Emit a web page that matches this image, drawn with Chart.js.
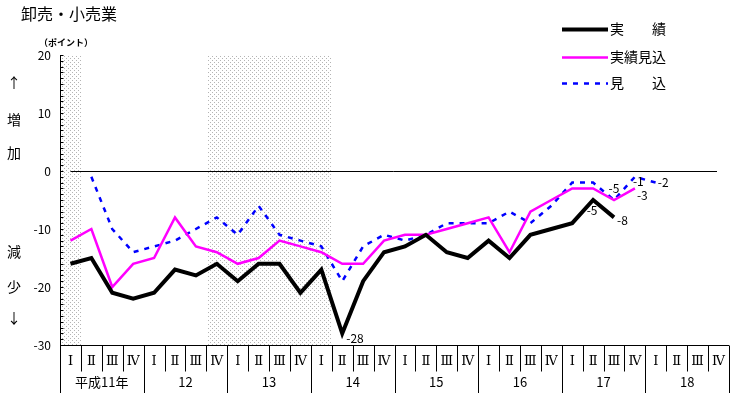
<!DOCTYPE html>
<html lang="ja">
<head>
<meta charset="utf-8">
<script src="https://cdn.jsdelivr.net/npm/chart.js@4"></script>
<style>
  html, body { margin: 0; padding: 0; background: #fff; }
  #wrap { width: 734px; height: 393px; }
</style>
</head>
<body>
<div id="wrap"><canvas id="grafico" width="734" height="393"></canvas></div>
<script>
// Dados (pontos)
const anos = ['平成11年', '12', '13', '14', '15', '16', '17', '18'];
const trimestres = ['Ⅰ', 'Ⅱ', 'Ⅲ', 'Ⅳ'];
const jisseki = [-16, -15, -21, -22, -21, -17, -18, -16, -19, -16, -16, -21, -17, -28, -19, -14,
  -13, -11, -14, -15, -12, -15, -11, -10, -9, -5, -8];
const jissekiMikomi = [-12, -10, -20, -16, -15, -8, -13, -14, -16, -15, -12, -13, -14, -16, -16, -12,
  -11, -11, -10, -9, -8, -14, -7, -5, -3, -3, -5, -3];
const mikomi = [null, -1, -10, -14, -13, -12, -10, -8, -11, -6, -11, -12, -13, -19, -13, -11,
  -12, -11, -9, -9, -9, -7, -9, -6, -2, -2, -5, -1, -2];
const yTicks = [20, 10, 0, -10, -20, -30];
// faixas sombreadas (índice do trimestre inicial, quantidade)
const faixas = [[0, 1], [7, 6]];
// rótulos de valor: [dataset, índice]
const rotulos = [[0, 13], [0, 25], [0, 26], [1, 26], [1, 27], [2, 27], [2, 28]];

const categorias = [];
anos.forEach(a => trimestres.forEach(t => categorias.push(a + '-' + t)));

const fonte = "'Noto Sans CJK JP', 'Noto Sans', sans-serif";

// padrão pontilhado cinza
function criarPadrao(ctx) {
  const c = document.createElement('canvas');
  c.width = 4; c.height = 4;
  const g = c.getContext('2d');
  g.fillStyle = '#b4b4b4';
  g.fillRect(0, 0, 1, 1);
  g.fillRect(2, 2, 1, 1);
  return ctx.createPattern(c, 'repeat');
}

const fundo = {
  id: 'fundo',
  beforeDatasetsDraw(chart) {
    const { ctx, chartArea, scales: { x, y } } = chart;
    const passo = x.getPixelForValue(1) - x.getPixelForValue(0);
    ctx.save();
    ctx.fillStyle = criarPadrao(ctx);
    faixas.forEach(([ini, n]) => {
      const x0 = Math.round(x.getPixelForValue(ini) - passo / 2) + 1;
      const x1 = Math.round(x.getPixelForValue(ini + n - 1) + passo / 2);
      ctx.fillRect(x0, chartArea.top, x1 - x0, chartArea.bottom - chartArea.top);
    });
    // linha do zero
    ctx.strokeStyle = '#000';
    ctx.lineWidth = 1;
    const y0 = Math.round(y.getPixelForValue(0)) + 0.5;
    ctx.beginPath();
    ctx.moveTo(x.getPixelForValue(0), y0);
    ctx.lineTo(chartArea.right - 12, y0);
    ctx.stroke();
    ctx.restore();
  }
};

const eixos = {
  id: 'eixos',
  afterDraw(chart) {
    const { ctx, chartArea, scales: { x, y } } = chart;
    const passo = x.getPixelForValue(1) - x.getPixelForValue(0);
    const base = Math.round(chartArea.bottom) + 0.5;
    const fim = chart.height;
    ctx.save();
    ctx.strokeStyle = '#000';
    ctx.lineWidth = 1;
    ctx.setLineDash([]);

    // eixo y e marcas
    const ex = Math.round(chartArea.left) + 0.5;
    ctx.beginPath();
    ctx.moveTo(ex, chartArea.top);
    ctx.lineTo(ex, fim);
    for (let v = 20; v >= -30; v--) {
      const py = Math.round(y.getPixelForValue(v)) + 0.5;
      ctx.moveTo(ex, py);
      ctx.lineTo(ex + 3, py);
    }
    // eixo x
    ctx.moveTo(chartArea.left, base);
    ctx.lineTo(chartArea.right, base);
    for (let i = 1; i <= categorias.length; i++) {
      const px = Math.round(x.getPixelForValue(i) - passo / 2) + 0.5;
      ctx.moveTo(px, base);
      ctx.lineTo(px, i % 4 === 0 ? fim : base + 26);
    }
    ctx.stroke();

    ctx.fillStyle = '#000';
    ctx.textBaseline = 'middle';
    // rótulos do eixo y
    ctx.font = '12px ' + fonte;
    ctx.textAlign = 'right';
    yTicks.forEach(v => ctx.fillText(String(v), 51, y.getPixelForValue(v)));

    // trimestres e anos
    ctx.textAlign = 'center';
    ctx.font = "13px 'DejaVu Serif', serif";
    categorias.forEach((c, i) => {
      ctx.fillText(trimestres[i % 4], x.getPixelForValue(i), base + 16);
    });
    ctx.font = '13px ' + fonte;
    anos.forEach((a, k) => {
      const meio = (x.getPixelForValue(k * 4) + x.getPixelForValue(k * 4 + 3)) / 2;
      ctx.fillText(a, meio, base + 37);
    });

    // textos da esquerda
    ctx.font = '14px ' + fonte;
    [['↑', 83], ['増', 120], ['加', 153], ['減', 252], ['少', 287], ['↓', 318]].forEach(([t, py]) => {
      ctx.fillText(t, 14, py);
    });
    ctx.font = 'bold 9px ' + fonte;
    ctx.fillText('（ポイント）', 66, 43);

    // título
    ctx.textAlign = 'left';
    ctx.font = '16px ' + fonte;
    ctx.fillText('卸売・小売業', 21, 14);

    // legenda
    const ly = [29, 57, 83];
    chart.data.datasets.forEach((ds, i) => {
      ctx.beginPath();
      ctx.strokeStyle = ds.borderColor;
      ctx.lineWidth = ds.borderWidth;
      ctx.setLineDash(ds.borderDash || []);
      ctx.moveTo(562, ly[i] + 0.5);
      ctx.lineTo(608, ly[i] + 0.5);
      ctx.stroke();
      ctx.font = '14px ' + fonte;
      ctx.fillText(ds.label, 610, ly[i]);
    });
    ctx.setLineDash([]);

    // rótulos de valores
    ctx.font = '12px ' + fonte;
    const desloc = { '0-13': [4, 5, 'left'], '0-25': [-1, 10, 'center'], '0-26': [3, 3, 'left'],
      '1-26': [0, -12, 'center'], '1-27': [2, 7, 'left'], '2-27': [-2, 5, 'left'], '2-28': [2, 0, 'left'] };
    rotulos.forEach(([d, i]) => {
      const v = chart.data.datasets[d].data[i];
      const [dx, dy, al] = desloc[d + '-' + i];
      ctx.textAlign = al;
      ctx.fillText(String(v), x.getPixelForValue(i) + dx, y.getPixelForValue(v) + dy);
    });
    ctx.restore();
  }
};

new Chart(document.getElementById('grafico'), {
  type: 'line',
  data: {
    labels: categorias,
    datasets: [
      { label: '実　　績', data: jisseki, borderColor: '#000000', borderWidth: 4 },
      { label: '実績見込', data: jissekiMikomi, borderColor: '#ff00ff', borderWidth: 2.5 },
      { label: '見　　込', data: mikomi, borderColor: '#0000ff', borderWidth: 2.5, borderDash: [5, 6] }
    ]
  },
  options: {
    responsive: false,
    animation: false,
    events: [],
    layout: { padding: { left: 60, right: 5, top: 55, bottom: 48 } },
    elements: { point: { radius: 0 }, line: { tension: 0, borderCapStyle: 'butt', borderJoinStyle: 'miter' } },
    plugins: { legend: { display: false }, tooltip: { enabled: false } },
    scales: {
      x: { type: 'category', display: false, offset: true },
      y: { display: false, min: -30, max: 20 }
    }
  },
  plugins: [fundo, eixos]
});
</script>
</body>
</html>
